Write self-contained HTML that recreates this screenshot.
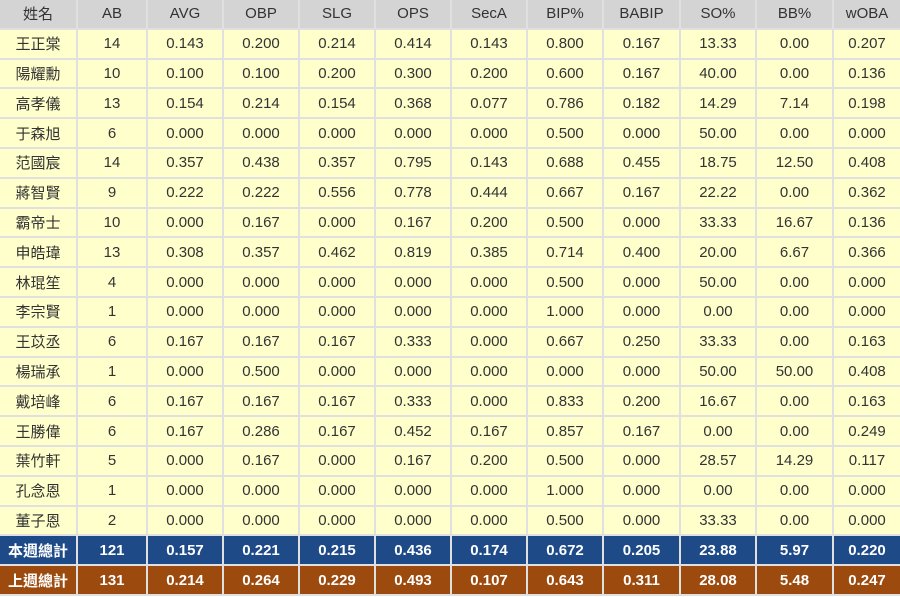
<!DOCTYPE html>
<html><head><meta charset="utf-8">
<style>
html,body{margin:0;padding:0;background:#fff;width:900px;height:597px;overflow:hidden}
.g{position:absolute;left:0;top:0;width:900px;display:grid;
grid-template-columns:76px 68px 74px 74px 74px 74px 74px 74px 75px 74px 75px 66px;
grid-template-rows:repeat(20,27.8px);column-gap:2px;row-gap:2px;background:#e0e0e0;padding-bottom:2px;
font-family:"Liberation Sans","Noto Sans CJK TC",sans-serif;font-size:15px;color:#333}
.g div{display:flex;align-items:center;justify-content:center;background:#ffffcc;white-space:nowrap}
.g div.h{background:#d4d4d4;color:#333}
.g div.b{background:#1e4b88;color:#fff;font-weight:bold}
.g div.r{background:#9c4a0e;color:#fff;font-weight:bold}
</style></head><body>
<div class="g">
<div class="h">姓名</div><div class="h">AB</div><div class="h">AVG</div><div class="h">OBP</div><div class="h">SLG</div><div class="h">OPS</div><div class="h">SecA</div><div class="h">BIP%</div><div class="h">BABIP</div><div class="h">SO%</div><div class="h">BB%</div><div class="h">wOBA</div>
<div>王正棠</div><div>14</div><div>0.143</div><div>0.200</div><div>0.214</div><div>0.414</div><div>0.143</div><div>0.800</div><div>0.167</div><div>13.33</div><div>0.00</div><div>0.207</div>
<div>陽耀勳</div><div>10</div><div>0.100</div><div>0.100</div><div>0.200</div><div>0.300</div><div>0.200</div><div>0.600</div><div>0.167</div><div>40.00</div><div>0.00</div><div>0.136</div>
<div>高孝儀</div><div>13</div><div>0.154</div><div>0.214</div><div>0.154</div><div>0.368</div><div>0.077</div><div>0.786</div><div>0.182</div><div>14.29</div><div>7.14</div><div>0.198</div>
<div>于森旭</div><div>6</div><div>0.000</div><div>0.000</div><div>0.000</div><div>0.000</div><div>0.000</div><div>0.500</div><div>0.000</div><div>50.00</div><div>0.00</div><div>0.000</div>
<div>范國宸</div><div>14</div><div>0.357</div><div>0.438</div><div>0.357</div><div>0.795</div><div>0.143</div><div>0.688</div><div>0.455</div><div>18.75</div><div>12.50</div><div>0.408</div>
<div>蔣智賢</div><div>9</div><div>0.222</div><div>0.222</div><div>0.556</div><div>0.778</div><div>0.444</div><div>0.667</div><div>0.167</div><div>22.22</div><div>0.00</div><div>0.362</div>
<div>霸帝士</div><div>10</div><div>0.000</div><div>0.167</div><div>0.000</div><div>0.167</div><div>0.200</div><div>0.500</div><div>0.000</div><div>33.33</div><div>16.67</div><div>0.136</div>
<div>申皓瑋</div><div>13</div><div>0.308</div><div>0.357</div><div>0.462</div><div>0.819</div><div>0.385</div><div>0.714</div><div>0.400</div><div>20.00</div><div>6.67</div><div>0.366</div>
<div>林琨笙</div><div>4</div><div>0.000</div><div>0.000</div><div>0.000</div><div>0.000</div><div>0.000</div><div>0.500</div><div>0.000</div><div>50.00</div><div>0.00</div><div>0.000</div>
<div>李宗賢</div><div>1</div><div>0.000</div><div>0.000</div><div>0.000</div><div>0.000</div><div>0.000</div><div>1.000</div><div>0.000</div><div>0.00</div><div>0.00</div><div>0.000</div>
<div>王苡丞</div><div>6</div><div>0.167</div><div>0.167</div><div>0.167</div><div>0.333</div><div>0.000</div><div>0.667</div><div>0.250</div><div>33.33</div><div>0.00</div><div>0.163</div>
<div>楊瑞承</div><div>1</div><div>0.000</div><div>0.500</div><div>0.000</div><div>0.000</div><div>0.000</div><div>0.000</div><div>0.000</div><div>50.00</div><div>50.00</div><div>0.408</div>
<div>戴培峰</div><div>6</div><div>0.167</div><div>0.167</div><div>0.167</div><div>0.333</div><div>0.000</div><div>0.833</div><div>0.200</div><div>16.67</div><div>0.00</div><div>0.163</div>
<div>王勝偉</div><div>6</div><div>0.167</div><div>0.286</div><div>0.167</div><div>0.452</div><div>0.167</div><div>0.857</div><div>0.167</div><div>0.00</div><div>0.00</div><div>0.249</div>
<div>葉竹軒</div><div>5</div><div>0.000</div><div>0.167</div><div>0.000</div><div>0.167</div><div>0.200</div><div>0.500</div><div>0.000</div><div>28.57</div><div>14.29</div><div>0.117</div>
<div>孔念恩</div><div>1</div><div>0.000</div><div>0.000</div><div>0.000</div><div>0.000</div><div>0.000</div><div>1.000</div><div>0.000</div><div>0.00</div><div>0.00</div><div>0.000</div>
<div>董子恩</div><div>2</div><div>0.000</div><div>0.000</div><div>0.000</div><div>0.000</div><div>0.000</div><div>0.500</div><div>0.000</div><div>33.33</div><div>0.00</div><div>0.000</div>
<div class="b">本週總計</div><div class="b">121</div><div class="b">0.157</div><div class="b">0.221</div><div class="b">0.215</div><div class="b">0.436</div><div class="b">0.174</div><div class="b">0.672</div><div class="b">0.205</div><div class="b">23.88</div><div class="b">5.97</div><div class="b">0.220</div>
<div class="r">上週總計</div><div class="r">131</div><div class="r">0.214</div><div class="r">0.264</div><div class="r">0.229</div><div class="r">0.493</div><div class="r">0.107</div><div class="r">0.643</div><div class="r">0.311</div><div class="r">28.08</div><div class="r">5.48</div><div class="r">0.247</div>
</div>
</body></html>
